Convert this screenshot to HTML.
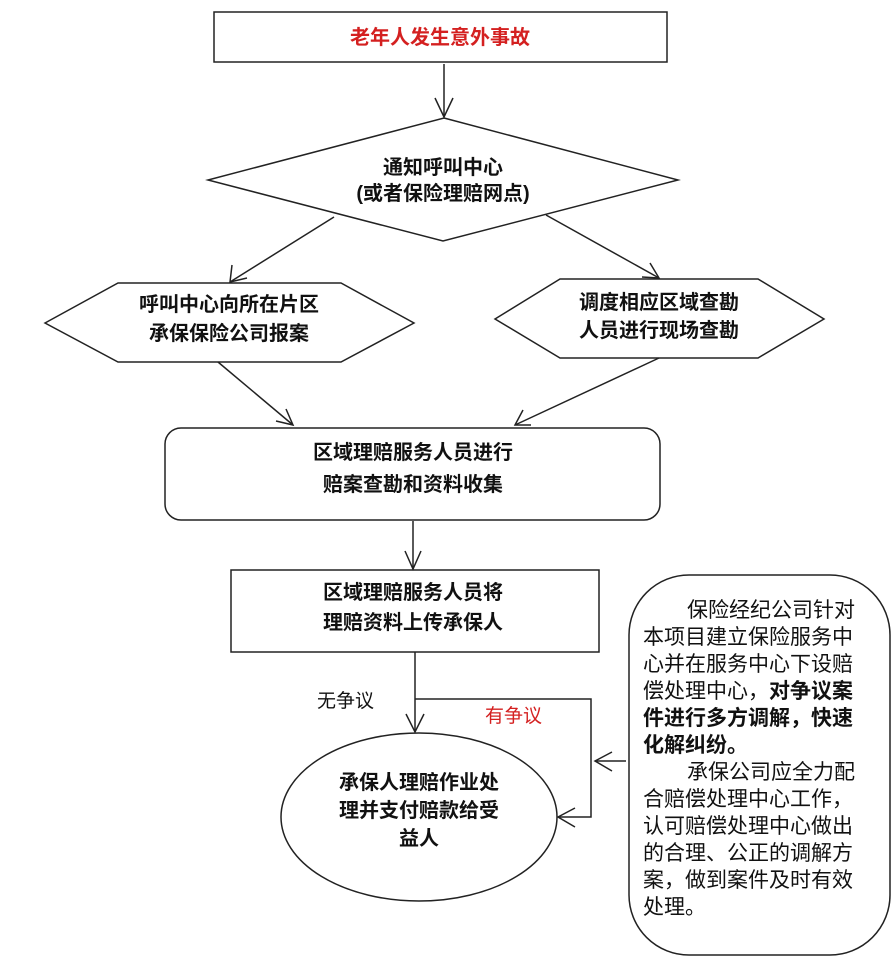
<!DOCTYPE html>
<html><head><meta charset="utf-8"><style>
body{margin:0;background:#fff}
svg{display:block}
text{font-family:"Liberation Sans","Noto Sans CJK SC",sans-serif;fill:#111}
.b{font-weight:bold;font-size:20px}
.n{font-size:21px}
</style></head><body>
<svg width="895" height="976" viewBox="0 0 895 976" xmlns="http://www.w3.org/2000/svg">
<g fill="none" stroke="#222" stroke-width="1.5">
<rect x="214" y="12" width="453" height="50"/>
<polygon points="444,118 678,180 443,241 208,180"/>
<polygon points="45,323 118,283 341,283 414,323 341,362 118,362"/>
<polygon points="495,319 560,279 758,279 824,319 758,358 560,358"/>
<rect x="165" y="428" width="495" height="92" rx="16"/>
<rect x="231" y="570" width="368" height="82"/>
<ellipse cx="419" cy="817" rx="138" ry="84"/>
<rect x="629" y="575" width="261" height="380" rx="60"/>
<line x1="444" y1="64" x2="444" y2="117"/>
<polyline points="435,98 444,117 453,98"/>
<line x1="334" y1="217" x2="230" y2="282"/>
<polyline points="232,265 230,282 247,278"/>
<line x1="546" y1="215" x2="659" y2="278"/>
<polyline points="650,263 659,278 642,277"/>
<line x1="218" y1="362" x2="293" y2="425"/>
<polyline points="276,421 293,425 286,409"/>
<line x1="659" y1="358" x2="515" y2="425"/>
<polyline points="523,410 515,425 531,425"/>
<line x1="413" y1="521" x2="413" y2="569"/>
<polyline points="405,551 413,569 421,551"/>
<line x1="415" y1="652" x2="415" y2="732"/>
<polyline points="406,714 415,732 424,714"/>
<polyline points="415,699 591,699 591,817 558,817"/>
<polyline points="575,808 558,817 575,827"/>
<line x1="626" y1="761" x2="595" y2="761"/>
<polyline points="612,752 595,761 612,771"/>
</g>
<text x="440" y="44" text-anchor="middle" class="b" style="fill:#d42020">老年人发生意外事故</text>
<text x="443" y="174" text-anchor="middle" class="b">通知呼叫中心</text>
<text x="443" y="200" text-anchor="middle" class="b">(或者保险理赔网点)</text>
<text x="229" y="311" text-anchor="middle" class="b">呼叫中心向所在片区</text>
<text x="229" y="340" text-anchor="middle" class="b">承保保险公司报案</text>
<text x="659" y="309" text-anchor="middle" class="b">调度相应区域查勘</text>
<text x="659" y="337" text-anchor="middle" class="b">人员进行现场查勘</text>
<text x="413" y="459" text-anchor="middle" class="b">区域理赔服务人员进行</text>
<text x="413" y="491" text-anchor="middle" class="b">赔案查勘和资料收集</text>
<text x="413" y="599" text-anchor="middle" class="b">区域理赔服务人员将</text>
<text x="413" y="629" text-anchor="middle" class="b">理赔资料上传承保人</text>
<text x="317" y="707" style="font-size:19px">无争议</text>
<text x="485" y="722" style="font-size:19px;fill:#d42020">有争议</text>
<text x="419" y="789" text-anchor="middle" class="b">承保人理赔作业处</text>
<text x="419" y="817" text-anchor="middle" class="b">理并支付赔款给受</text>
<text x="419" y="845" text-anchor="middle" class="b">益人</text>
<text x="687" y="617" class="n">保险经纪公司针对</text>
<text x="643" y="644" class="n">本项目建立保险服务中</text>
<text x="643" y="671" class="n">心并在服务中心下设赔</text>
<text x="643" y="698" class="n">偿处理中心，<tspan font-weight="bold">对争议案</tspan></text>
<text x="643" y="725" class="n" font-weight="bold">件进行多方调解，快速</text>
<text x="643" y="752" class="n" font-weight="bold">化解纠纷。</text>
<text x="687" y="779" class="n">承保公司应全力配</text>
<text x="643" y="806" class="n">合赔偿处理中心工作，</text>
<text x="643" y="833" class="n">认可赔偿处理中心做出</text>
<text x="643" y="860" class="n">的合理、公正的调解方</text>
<text x="643" y="887" class="n">案，做到案件及时有效</text>
<text x="643" y="914" class="n">处理。</text>
</svg>
</body></html>
